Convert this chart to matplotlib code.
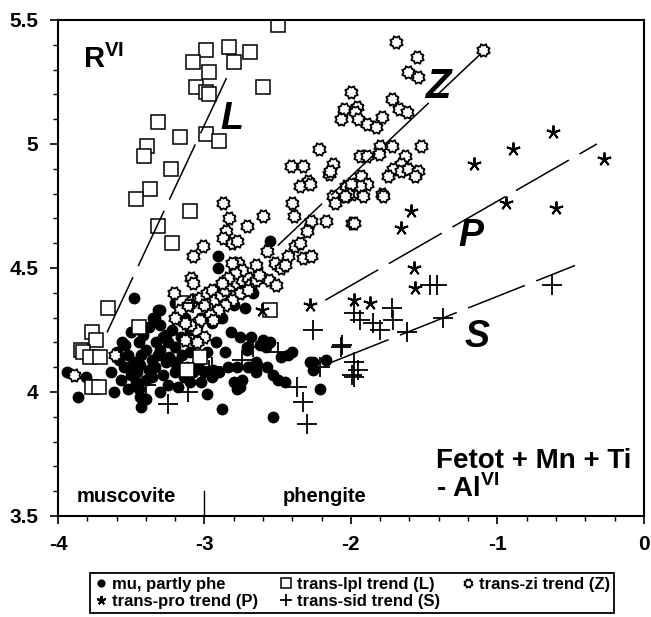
import numpy as np
import matplotlib
matplotlib.use("Agg")
import matplotlib.pyplot as plt
from matplotlib.ticker import MultipleLocator

plt.rcParams['font.family'] = ['Liberation Sans', 'DejaVu Sans']
plt.rcParams['font.weight'] = 'bold'
plt.rcParams['mathtext.fontset'] = 'custom'
plt.rcParams['mathtext.rm'] = 'Liberation Sans:bold'
plt.rcParams['mathtext.bf'] = 'Liberation Sans:bold'

# mu, partly phe (filled circles)
mu_x = [-3.48, -3.94, -3.86, -3.81, -3.62, -3.64, -3.54, -3.52, -3.50, -3.43, -3.44, -3.32, -3.35,
        -3.26, -3.30, -3.19, -2.98, -3.25, -2.88, -2.82, -2.76, -2.78, -2.76, -2.94, -2.78, -2.71,
        -2.60, -2.64, -2.57, -2.53, -2.45, -2.53, -2.43, -2.26, -2.17, -2.21, -2.72, -2.55, -2.71,
        -2.98, -2.86, -2.65, -2.65, -2.50, -2.28, -2.26, -2.55, -2.91, -2.91, -3.56, -3.52, -3.34,
        -3.34, -3.30, -3.21, -3.25, -3.10, -3.02, -3.58, -3.55, -3.50, -3.47, -3.45, -3.40, -3.38,
        -3.36, -3.40, -3.45, -3.42, -3.38, -3.30, -3.28, -3.22, -3.20, -3.15, -3.12, -3.08, -3.05,
        -3.00, -3.20, -3.28, -3.30, -3.40, -3.48, -3.60, -3.57, -3.43, -3.33, -3.16, -3.10, -2.95,
        -2.90, -2.84, -2.70, -2.74, -2.80, -2.62, -2.58, -2.68, -2.48, -2.40, -2.92, -3.06, -3.10,
        -3.02, -2.95, -2.88, -2.80, -2.75, -3.20, -3.13, -2.67, -3.46, -3.36, -3.24, -3.14, -3.04,
        -3.52, -3.32, -3.18, -3.44, -3.26]
mu_y = [4.38, 4.08, 3.98, 4.06, 4.00, 4.08, 4.19, 4.15, 4.24, 3.94, 3.98, 4.33, 4.30,
        4.23, 4.17, 4.12, 3.99, 4.03, 3.93, 4.24, 4.22, 4.01, 4.02, 4.09, 4.10, 4.18,
        4.21, 4.11, 4.10, 4.07, 4.04, 3.90, 4.15, 4.12, 4.13, 4.01, 4.34, 4.20, 4.17,
        4.16, 4.16, 4.12, 4.08, 4.05, 4.12, 4.09, 4.61, 4.55, 4.50, 4.20, 4.01, 4.10,
        4.30, 4.33, 4.12, 4.20, 4.04, 4.04, 4.13, 4.10, 4.07, 4.04, 4.01, 4.05, 4.09,
        4.13, 4.17, 4.20, 4.23, 4.26, 4.27, 4.22, 4.25, 4.18, 4.15, 4.10, 4.08, 4.10,
        4.08, 4.08, 4.07, 4.00, 3.97, 4.12, 4.16, 4.05, 4.15, 4.20, 4.22, 4.16, 4.06,
        4.08, 4.10, 4.10, 4.05, 4.04, 4.19, 4.18, 4.22, 4.14, 4.16, 4.20, 4.20, 4.25,
        4.30, 4.28, 4.30, 4.35, 4.40, 4.36, 4.30, 4.40, 4.08, 4.06, 4.14, 4.06, 4.12,
        4.10, 4.15, 4.02, 4.11, 4.12]

# trans-lpl trend (L)
lpl_x = [-2.50, -2.99, -2.83, -3.08, -2.80, -2.69, -2.97, -3.06, -2.99, -2.97, -2.60, -3.32, -2.99,
         -2.90, -3.17, -3.39, -3.41, -3.23, -3.37, -3.47, -3.10, -3.32, -3.22, -3.66, -3.77, -3.74,
         -3.84, -3.83, -3.78, -3.71, -3.77, -3.72, -3.45, -3.03, -2.55, -3.12, -3.15]
lpl_y = [5.48, 5.38, 5.39, 5.33, 5.33, 5.37, 5.29, 5.23, 5.21, 5.20, 5.23, 5.09, 5.04,
         5.01, 5.03, 4.99, 4.95, 4.90, 4.82, 4.78, 4.73, 4.67, 4.60, 4.34, 4.24, 4.21,
         4.17, 4.16, 4.14, 4.14, 4.02, 4.02, 4.26, 4.14, 4.33, 4.09, 4.36]

# trans-zi trend (Z)
zi_x = [-2.22, -2.41, -2.33, -2.29, -2.35, -2.28, -2.15, -2.87, -2.40, -2.60, -2.83, -2.71, -2.39,
        -2.27, -2.17, -1.99, -2.30, -2.85, -2.87, -2.81, -2.78, -3.01, -3.08, -2.57, -2.38, -2.35,
        -2.43, -2.33, -2.27, -2.52, -2.48, -2.45, -2.77, -2.65, -3.09, -2.56, -2.51, -3.21, -2.98,
        -2.12, -2.11, -2.03, -2.03, -1.99, -1.69, -1.55, -1.61, -1.54, -2.00, -1.72, -2.05, -1.96,
        -1.97, -1.67, -1.62, -1.95, -1.89, -1.83, -1.79, -2.07, -1.80, -1.72, -1.52, -1.94, -1.89,
        -1.81, -1.63, -1.66, -1.71, -1.66, -1.61, -1.54, -1.56, -1.75, -1.93, -1.89, -1.94, -2.00,
        -1.92, -2.02, -2.04, -1.79, -1.78, -1.98, -1.10, -2.12, -2.14, -3.89, -3.61, -3.08,
        -3.08, -3.03, -2.98, -2.95, -3.00, -2.93, -2.89, -2.86, -2.82, -2.78, -2.74, -2.70, -2.69,
        -2.76, -2.81, -2.86, -2.91, -2.96, -3.03, -3.06, -3.10, -3.13, -2.70, -2.65, -2.63, -2.74,
        -2.79, -2.84, -2.94, -3.00, -3.05, -3.13, -3.17, -3.20, -3.11, -2.88, -2.81]
zi_y = [4.98, 4.91, 4.91, 4.85, 4.83, 4.84, 4.88, 4.76, 4.76, 4.71, 4.70, 4.67, 4.71,
        4.69, 4.69, 4.68, 4.65, 4.65, 4.62, 4.60, 4.61, 4.59, 4.55, 4.57, 4.59, 4.60,
        4.55, 4.54, 4.55, 4.52, 4.50, 4.51, 4.52, 4.51, 4.46, 4.45, 4.43, 4.40, 4.38,
        4.79, 4.76, 4.79, 4.83, 4.80, 5.41, 5.35, 5.29, 5.27, 5.21, 5.18, 5.14, 5.15,
        5.13, 5.14, 5.13, 5.10, 5.08, 5.07, 5.11, 5.10, 4.99, 4.99, 4.99, 4.95, 4.95,
        4.96, 4.95, 4.92, 4.90, 4.89, 4.90, 4.89, 4.87, 4.87, 4.87, 4.84, 4.83, 4.84,
        4.79, 4.80, 4.79, 4.80, 4.79, 4.68, 5.38, 4.92, 4.89, 4.07, 4.15, 4.44,
        4.37, 4.38, 4.40, 4.41, 4.35, 4.37, 4.39, 4.41, 4.43, 4.44, 4.45, 4.46, 4.43,
        4.40, 4.37, 4.35, 4.33, 4.31, 4.29, 4.25, 4.27, 4.28, 4.41, 4.45, 4.47, 4.49,
        4.48, 4.46, 4.29, 4.22, 4.20, 4.21, 4.33, 4.30, 4.35, 4.44, 4.52]

# trans-pro trend (P)
pro_x = [-0.62, -0.89, -1.16, -0.27, -0.94, -0.60, -1.59, -1.66, -1.57, -1.56, -1.98, -1.87,
         -2.28, -2.61]
pro_y = [5.05, 4.98, 4.92, 4.94, 4.76, 4.74, 4.73, 4.66, 4.50, 4.42, 4.37, 4.36,
         4.35, 4.33]

# trans-sid trend (S)
sid_x = [-1.46, -1.41, -0.63, -1.98, -1.94, -1.85, -1.80, -1.72, -1.71, -1.62, -1.37, -2.06,
         -1.98, -1.95, -1.98, -2.26, -2.07, -1.99, -2.37, -2.33, -2.30, -2.50, -2.67, -2.74,
         -2.95, -3.25, -3.11, -2.97, -3.40, -3.08, -2.21]
sid_y = [4.43, 4.43, 4.43, 4.32, 4.29, 4.28, 4.25, 4.34, 4.29, 4.24, 4.30, 4.19,
         4.12, 4.09, 4.06, 4.25, 4.18, 4.07, 4.02, 3.96, 3.87, 4.16, 4.18, 4.13,
         4.10, 3.95, 4.00, 4.09, 4.03, 4.36, 4.10]

# trend lines (end points)
trend_L = ([-3.665, -2.83], [4.24, 5.29])
trend_Z = ([-2.50, -1.12], [4.59, 5.36])
trend_P = ([-2.175, -0.32], [4.37, 5.00])
trend_S = ([-2.13, -0.47], [4.12, 4.51])

# sun / cog marker for zircon trend
ang = np.linspace(0, 2 * np.pi, 17)[:-1] + np.pi / 8
rad = np.where(np.arange(16) % 2 == 0, 1.0, 0.72)
cog = list(zip(rad * np.cos(ang), rad * np.sin(ang)))
cog.append(cog[0])

fig = plt.figure(figsize=(6.51, 6.17), dpi=100)
ax = fig.add_axes([0.089, 0.1637, 0.9, 0.804])

h_mu, = ax.plot(mu_x, mu_y, 'o', ms=7.5, mfc='black', mec='black', ls='none')
h_l, = ax.plot(lpl_x, lpl_y, 's', ms=10, mfc='white', mec='black', mew=1.1, ls='none')
h_z, = ax.plot(zi_x, zi_y, marker=cog, ms=9, mfc='white', mec='black', mew=1.3, ls='none')
h_p, = ax.plot(pro_x, pro_y, marker=(5, 2, 0), ms=10, mec='black', mew=1.4, ls='none')
h_s, = ax.plot(sid_x, sid_y, '+', ms=14, mec='black', mew=1.3, ls='none')

for tx, ty in (trend_L, trend_Z, trend_P, trend_S):
    ax.plot(tx, ty, color='black', lw=1.1, ls=(0, (40, 8)))

ax.set_xlim(-4, 0)
ax.set_ylim(3.5, 5.5)
ax.xaxis.set_minor_locator(MultipleLocator(0.2))
ax.yaxis.set_minor_locator(MultipleLocator(0.1))
ax.set_yticks([3.5, 4, 4.5, 5, 5.5])
ax.set_yticklabels(['3.5', '4', '4.5', '5', '5.5'])
ax.set_xticks([-4, -3, -2, -1, 0])
ax.set_xticklabels(['-4', '-3', '-2', '-1', '0'])
ax.tick_params(which='major', direction='out', length=6, width=1.2, labelsize=15, pad=8)
ax.tick_params(which='minor', direction='out', length=3.5, width=1)
ax.tick_params(top=False, right=False)
for s in ax.spines.values():
    s.set_linewidth(1.5)

ax.axvline(-3, ymin=0, ymax=0.05, color='black', lw=1)

ax.text(-3.83, 5.34, r'R$^{\mathrm{VI}}$', fontsize=21, ha='left', va='center')
ax.text(-2.81, 5.10, 'L', fontsize=27, fontweight='bold', style='italic', ha='center', va='center')
ax.text(-1.40, 5.23, 'Z', fontsize=30, fontweight='bold', style='italic', ha='center', va='center')
ax.text(-1.18, 4.63, 'P', fontsize=27, fontweight='bold', style='italic', ha='center', va='center')
ax.text(-1.14, 4.22, 'S', fontsize=27, fontweight='bold', style='italic', ha='center', va='center')
ax.text(-1.42, 3.72, 'Fetot + Mn + Ti', fontsize=20, fontweight='bold', ha='left', va='center')
ax.text(-1.42, 3.61, r'- Al$^{\mathrm{VI}}$', fontsize=20, ha='left', va='center')
ax.text(-3.53, 3.577, 'muscovite', fontsize=14.5, fontweight='bold', ha='center', va='center')
ax.text(-2.18, 3.577, 'phengite', fontsize=14.5, fontweight='bold', ha='center', va='center')

# legend fills column by column, so order handles to read row-wise
handles = [h_mu, h_p, h_l, h_s, h_z]
labels = ['mu, partly phe', 'trans-pro trend (P)', 'trans-lpl trend (L)',
          'trans-sid trend (S)', 'trans-zi trend (Z)']
leg = fig.legend(handles, labels, loc='center', bbox_to_anchor=(0.541, 0.039), ncol=3,
                 fontsize=12, markerscale=0.65, handlelength=0.8, handletextpad=0.25,
                 columnspacing=1.3, labelspacing=0.1, borderpad=0.25, fancybox=False,
                 edgecolor='black', framealpha=1)
leg.get_frame().set_linewidth(1.3)

fig.savefig('out.png', dpi=100)
